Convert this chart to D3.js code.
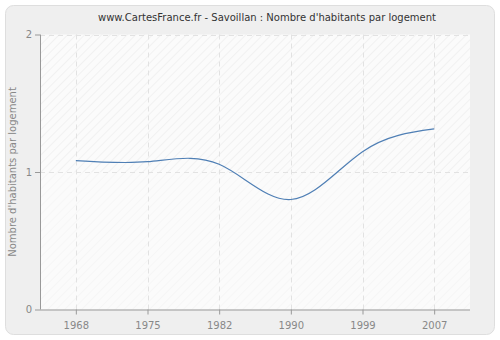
<!DOCTYPE html>
<html><head><meta charset="utf-8">
<script src="https://cdn.jsdelivr.net/npm/d3@7"></script>
<style>body{margin:0;background:#fff}svg{display:block}</style>
</head><body>
<script>
const years = ["1968","1975","1982","1990","1999","2007"];
const values = [1.083, 1.075, 1.056, 0.80, 1.148, 1.313];
const yTicks = [0, 1, 2];
const title = "www.CartesFrance.fr - Savoillan : Nombre d'habitants par logement";
const yLabel = "Nombre d'habitants par logement";

const W = 500, H = 340;
const m = {left: 40, right: 30, top: 34.5, bottom: 30.5};
const svg = d3.select("body").append("svg").attr("width", W).attr("height", H);
const font = "DejaVu Sans, Verdana, sans-serif";

svg.append("rect").attr("x", 5.5).attr("y", 5.5).attr("width", 489).attr("height", 329)
  .attr("rx", 8).attr("fill", "#efefef").attr("stroke", "#dedede");

const defs = svg.append("defs");
function pat(id, bg, fg) {
  const p = defs.append("pattern").attr("id", id).attr("patternUnits", "userSpaceOnUse")
    .attr("width", 6).attr("height", 6).attr("patternTransform", "rotate(45)");
  p.append("rect").attr("width", 6).attr("height", 6).attr("fill", bg);
  p.append("line").attr("x1", 0).attr("y1", 0).attr("x2", 0).attr("y2", 6).attr("stroke", fg).attr("stroke-width", 1.2);
}
pat("hatchA", "#fbfbfb", "#ebebeb");
pat("hatchB", "#fbfbfb", "#f3f3f3");

const x = d3.scalePoint().domain(years).range([m.left, W - m.right]).padding(0.5);
const y = d3.scaleLinear().domain([0, 2]).range([H - m.bottom, m.top]);

svg.append("rect").attr("x", m.left).attr("y", y(2)).attr("width", W - m.right - m.left)
  .attr("height", y(1) - y(2)).attr("fill", "url(#hatchA)");
svg.append("rect").attr("x", m.left).attr("y", y(1)).attr("width", W - m.right - m.left)
  .attr("height", y(0) - y(1)).attr("fill", "url(#hatchB)");

// grid
const g = svg.append("g");
g.selectAll(".vg").data(years).join("line")
  .attr("x1", d => Math.round(x(d)) + 0.5).attr("x2", d => Math.round(x(d)) + 0.5)
  .attr("y1", y(2)).attr("y2", y(0))
  .attr("stroke", "#e2e2e2").attr("stroke-dasharray", "5,4");
g.selectAll(".hg").data(yTicks.filter(t => t > 0)).join("line")
  .attr("x1", m.left).attr("x2", W - m.right)
  .attr("y1", d => Math.round(y(d)) + 0.5).attr("y2", d => Math.round(y(d)) + 0.5)
  .attr("stroke", "#e2e2e2").attr("stroke-dasharray", "5,4");

// axes
const xa = svg.append("g").attr("transform", `translate(0,${y(0)})`)
  .call(d3.axisBottom(x).tickSize(5).tickSizeOuter(0));
const ya = svg.append("g").attr("transform", `translate(${m.left},0)`)
  .call(d3.axisLeft(y).tickValues(yTicks).tickFormat(d3.format("d")).tickSize(5).tickSizeOuter(0));
[xa, ya].forEach(a => {
  a.select(".domain").attr("stroke", "#999");
  a.selectAll(".tick line").attr("stroke", "#999");
  a.selectAll("text").attr("fill", "#888").attr("font-family", font).attr("font-size", 10);
});
xa.selectAll("text").attr("dy", "1.1em");
xa.select(".domain").attr("d", `M${m.left},0.5H${W - m.right}`);
ya.select(".domain").attr("d", `M0.5,${y(0)}V${y(2)}`);

// line
const line = d3.line().x((d, i) => x(years[i])).y(d => y(d)).curve(d3.curveNatural);
svg.append("path").datum(values).attr("d", line).attr("fill", "none")
  .attr("stroke", "#4f7fb5").attr("stroke-width", 1.2);

svg.append("text").attr("x", 267).attr("y", 21).attr("text-anchor", "middle")
  .attr("font-family", font).attr("font-size", 10).attr("fill", "#333").text(title);
svg.append("text").attr("transform", `translate(16,${y(1)}) rotate(-90)`).attr("text-anchor", "middle")
  .attr("font-family", font).attr("font-size", 10).attr("fill", "#888").text(yLabel);
</script>
</body></html>
